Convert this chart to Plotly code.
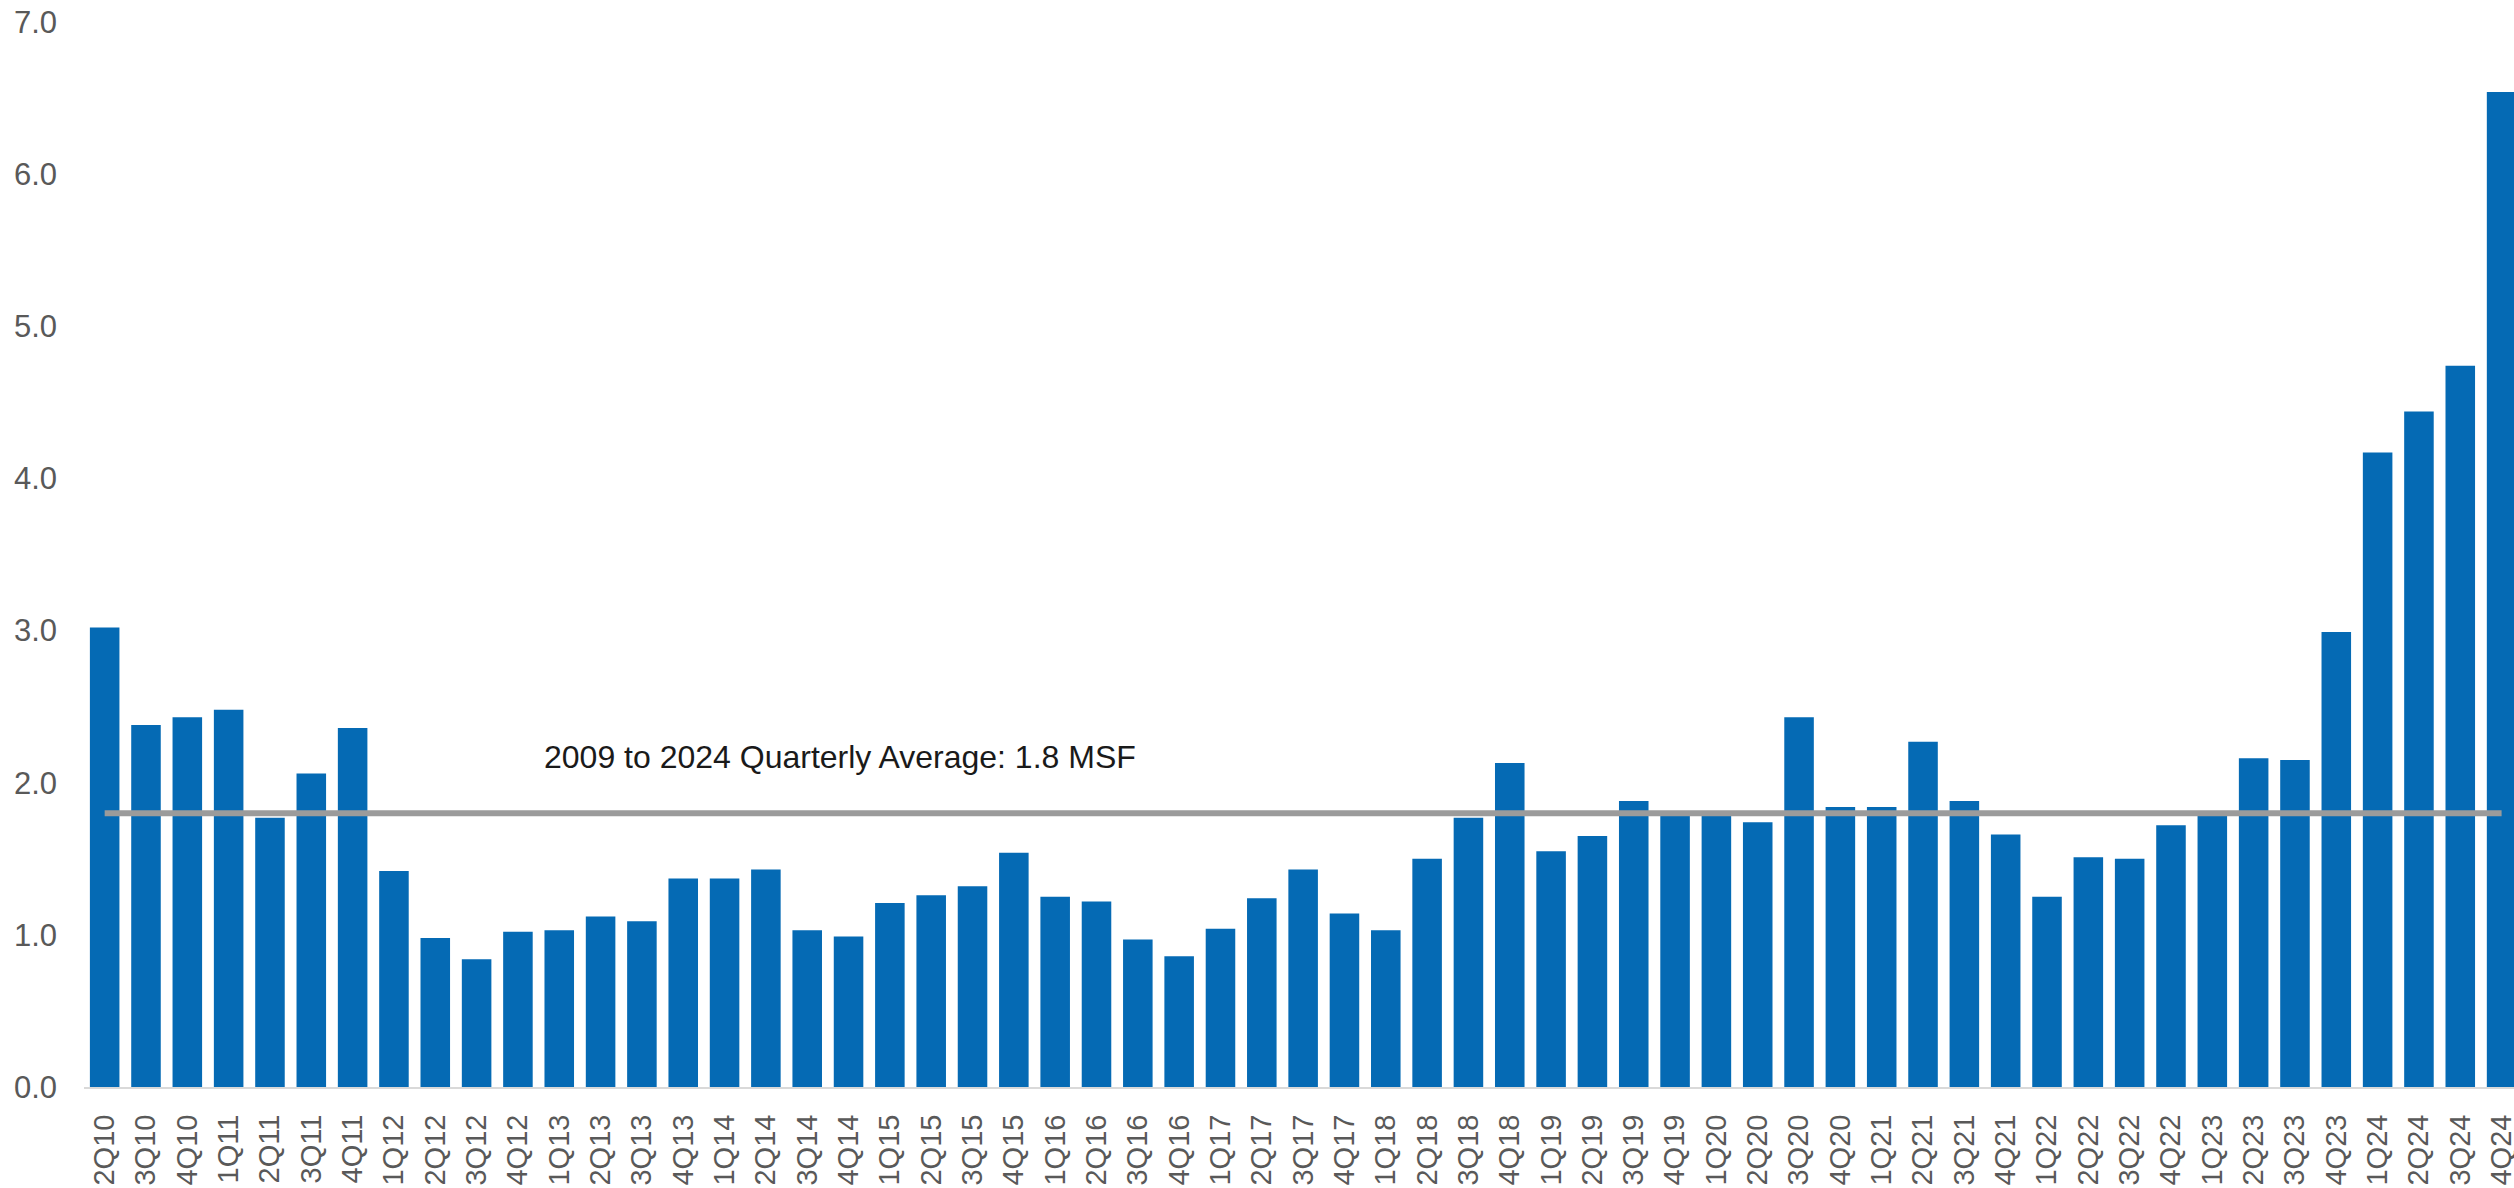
import plotly.graph_objects as go

# Quarterly net absorption (MSF), 2Q10 through 4Q24
quarters = [
    "2Q10", "3Q10", "4Q10",
    "1Q11", "2Q11", "3Q11", "4Q11",
    "1Q12", "2Q12", "3Q12", "4Q12",
    "1Q13", "2Q13", "3Q13", "4Q13",
    "1Q14", "2Q14", "3Q14", "4Q14",
    "1Q15", "2Q15", "3Q15", "4Q15",
    "1Q16", "2Q16", "3Q16", "4Q16",
    "1Q17", "2Q17", "3Q17", "4Q17",
    "1Q18", "2Q18", "3Q18", "4Q18",
    "1Q19", "2Q19", "3Q19", "4Q19",
    "1Q20", "2Q20", "3Q20", "4Q20",
    "1Q21", "2Q21", "3Q21", "4Q21",
    "1Q22", "2Q22", "3Q22", "4Q22",
    "1Q23", "2Q23", "3Q23", "4Q23",
    "1Q24", "2Q24", "3Q24", "4Q24",
]

values = [
    3.02, 2.38, 2.43,
    2.48, 1.77, 2.06, 2.36,
    1.42, 0.98, 0.84, 1.02,
    1.03, 1.12, 1.09, 1.37,
    1.37, 1.43, 1.03, 0.99,
    1.21, 1.26, 1.32, 1.54,
    1.25, 1.22, 0.97, 0.86,
    1.04, 1.24, 1.43, 1.14,
    1.03, 1.50, 1.77, 2.13,
    1.55, 1.65, 1.88, 1.79,
    1.80, 1.74, 2.43, 1.84,
    1.84, 2.27, 1.88, 1.66,
    1.25, 1.51, 1.50, 1.72,
    1.81, 2.16, 2.15, 2.99,
    4.17, 4.44, 4.74, 6.54,
]

average = 1.8
y_ticks = [0, 1, 2, 3, 4, 5, 6, 7]

BAR_COLOR = "#056AB4"
AVG_COLOR = "#9B9B9B"
TICK_COLOR = "#595959"
FONT = "Liberation Sans, Arial, sans-serif"

fig = go.Figure()

fig.add_trace(go.Bar(
    x=quarters,
    y=values,
    width=0.715,
    marker=dict(color=BAR_COLOR, line=dict(width=0)),
    hoverinfo="x+y",
))

# Long-run average reference line across all quarters
fig.add_trace(go.Scatter(
    x=[quarters[0], quarters[-1]],
    y=[average, average],
    mode="lines",
    line=dict(color=AVG_COLOR, width=6),
    hoverinfo="skip",
))

fig.add_annotation(
    text=f"2009 to 2024 Quarterly Average: {average:.1f} MSF",
    xref="paper", x=0.1885, xanchor="left",
    yref="y", y=2.17, yanchor="middle",
    showarrow=False,
    font=dict(family=FONT, size=32, color="#1A1A1A"),
)

fig.update_layout(
    width=2514,
    height=1188,
    margin=dict(l=84, r=0, t=22, b=101),
    paper_bgcolor="white",
    plot_bgcolor="white",
    showlegend=False,
    font=dict(family=FONT),
    bargap=0.28,
)

fig.update_xaxes(
    type="category",
    range=[-0.5, 58.3],
    tickangle=-90,
    tickfont=dict(family=FONT, size=29, color=TICK_COLOR),
    showline=True,
    linecolor="#D9D9D9",
    linewidth=2,
    showgrid=False,
    ticks="",
    automargin=False,
    ticklabelstandoff=14,
)

fig.update_yaxes(
    range=[0, 7],
    tickvals=y_ticks,
    tickformat=".1f",
    showgrid=False,
    zeroline=False,
    showline=False,
    ticks="",
    tickfont=dict(family=FONT, size=31, color=TICK_COLOR),
    automargin=False,
    ticklabelstandoff=26,
)

fig.write_html("out.html")
